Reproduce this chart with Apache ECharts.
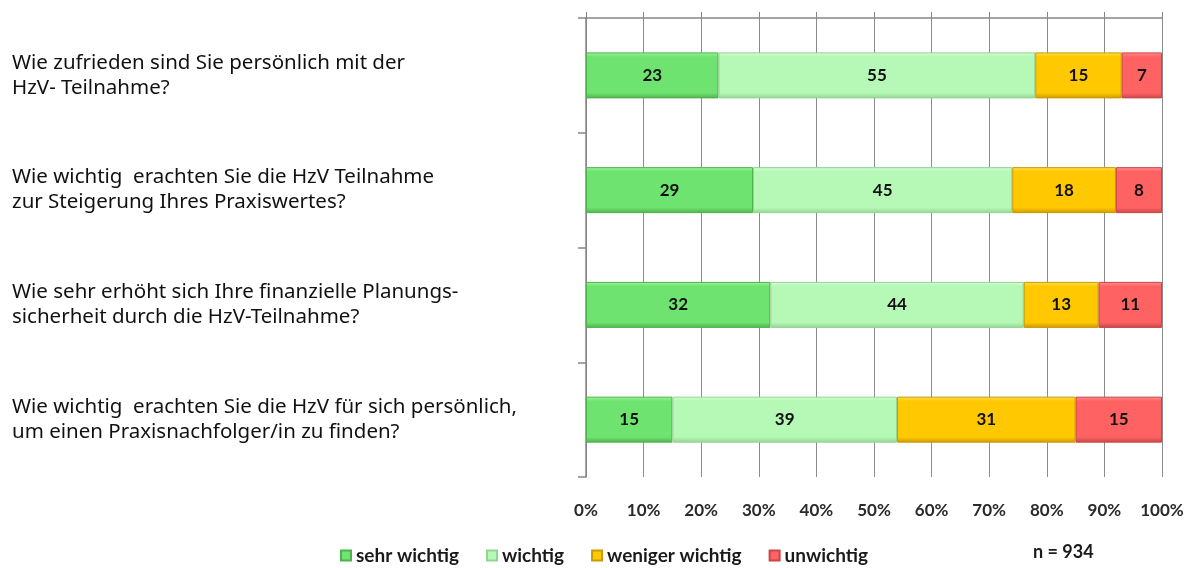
<!DOCTYPE html>
<html lang="de">
  <head>
    <meta charset="UTF-8" />
    <title>HzV Befragung</title>
    <script src="https://cdn.jsdelivr.net/npm/echarts@6.0.0/dist/echarts.min.js"></script>
    <style>
      html, body { margin: 0; padding: 0; background: #fff; }
    </style>
  </head>
  <body>
    <div id="main" style="width: 1195px; height: 568px"></div>
    <script type="text/javascript">
      const questions = [
        "Wie zufrieden sind Sie persönlich mit der\nHzV- Teilnahme?",
        "Wie wichtig  erachten Sie die HzV Teilnahme\nzur Steigerung Ihres Praxiswertes?",
        "Wie sehr erhöht sich Ihre finanzielle Planungs-\nsicherheit durch die HzV-Teilnahme?",
        "Wie wichtig  erachten Sie die HzV für sich persönlich,\num einen Praxisnachfolger/in zu finden?",
      ];
      const seriesNames = ["sehr wichtig", "wichtig", "weniger wichtig", "unwichtig"];
      const sehrWichtig = [23, 29, 32, 15];
      const wichtig = [55, 45, 44, 39];
      const wenigerWichtig = [15, 18, 13, 31];
      const unwichtig = [7, 8, 11, 15];
      const xTicks = [0, 10, 20, 30, 40, 50, 60, 70, 80, 90, 100];
      const sampleNote = "n = 934";

      const palette = [
        { light: "#9af59a", base: "#6fe36f", dark: "#4fb04f" },
        { light: "#d4fcd4", base: "#b6f8b6", dark: "#93d493" },
        { light: "#ffdf55", base: "#ffc800", dark: "#c99a00" },
        { light: "#ff9090", base: "#ff6262", dark: "#c84646" },
      ];

      // lighter top edge, darker bottom edge: rough stand-in for the bevel
      function bevel(c) {
        return new echarts.graphic.LinearGradient(0, 0, 0, 1, [
          { offset: 0, color: c.light },
          { offset: 0.1, color: c.base },
          { offset: 0.88, color: c.base },
          { offset: 1, color: c.dark },
        ]);
      }

      const values = [sehrWichtig, wichtig, wenigerWichtig, unwichtig];

      let myChart = echarts.init(document.getElementById("main"));
      let options = {
        animation: false,
        textStyle: { fontFamily: "Lato" },
        grid: { left: 586, right: 33, top: 18, bottom: 91 },
        legend: {
          data: seriesNames,
          left: 335,
          top: 541,
          icon: "rect",
          itemWidth: 10,
          itemHeight: 10,
          itemGap: 27,
          textStyle: { fontFamily: "Lato", fontWeight: "bold", fontSize: 19, color: "#1a1a1a" },
        },
        xAxis: [
          {
            type: "value",
            min: xTicks[0],
            max: xTicks[xTicks.length - 1],
            interval: 10,
            position: "bottom",
            axisLine: { show: false },
            axisTick: { show: false },
            splitLine: { show: true, lineStyle: { color: "#8c8c8c", width: 1 } },
            axisLabel: {
              formatter: "{value}%",
              margin: 25,
              fontFamily: "Lato",
              fontWeight: "bold",
              fontSize: 17,
              color: "#2a2a2a",
            },
          },
          {
            type: "value",
            min: xTicks[0],
            max: xTicks[xTicks.length - 1],
            interval: 10,
            position: "top",
            axisLine: { show: true, lineStyle: { color: "#868686", width: 1.5 } },
            axisTick: { show: true, length: 6, lineStyle: { color: "#868686" } },
            axisLabel: { show: false },
            splitLine: { show: false },
          },
        ],
        yAxis: {
          type: "category",
          data: questions,
          inverse: true,
          axisLine: { show: true, lineStyle: { color: "#868686", width: 1.5 } },
          axisTick: { show: true, length: 8, lineStyle: { color: "#868686", width: 1.5 } },
          axisLabel: {
            align: "left",
            margin: 574,
            fontFamily: "Noto Sans",
            fontSize: 20.5,
            lineHeight: 25,
            color: "#111",
          },
        },
        series: seriesNames.map((name, i) => ({
          name: name,
          type: "bar",
          stack: "total",
          barWidth: 46,
          data: values[i],
          itemStyle: {
            color: bevel(palette[i]),
            borderColor: palette[i].dark,
            borderWidth: 1,
          },
          label: {
            show: true,
            position: "inside",
            fontFamily: "Lato",
            fontWeight: "bold",
            fontSize: 17,
            color: "#111",
          },
        })),
        color: palette.map((c) => c.base),
        graphic: [
          {
            type: "text",
            left: 1033,
            top: 543,
            style: {
              text: sampleNote,
              font: "bold 18px Lato",
              fill: "#1a1a1a",
            },
          },
        ],
      };
      myChart.setOption(options);
    </script>
  </body>
</html>
